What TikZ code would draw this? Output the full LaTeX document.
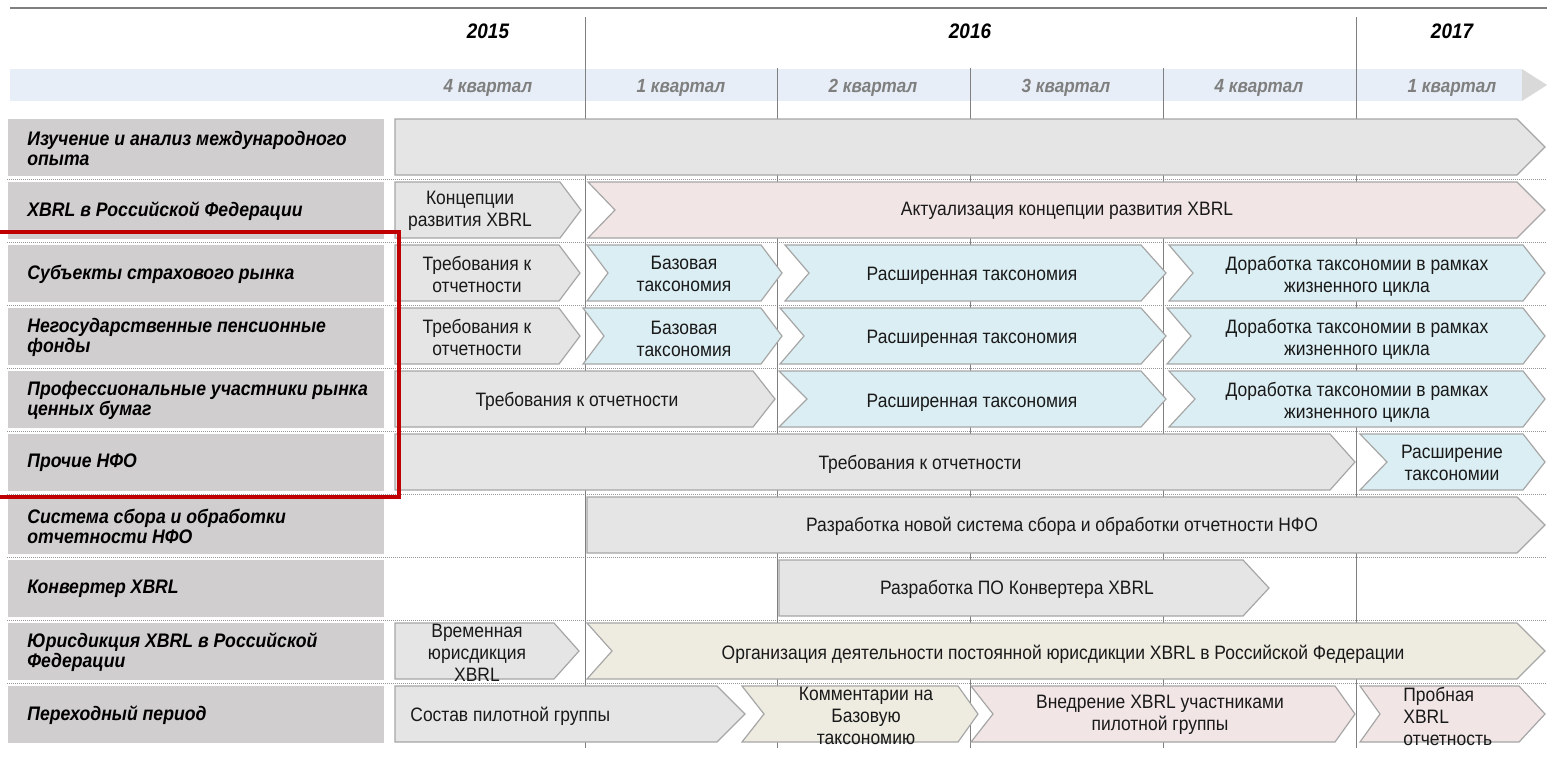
\documentclass[tikz,border=0pt]{standalone}
\usepackage{fontspec}
\setmainfont{Liberation Sans}[FakeStretch=0.9]
\definecolor{lblgray}{HTML}{D0CECE}
\definecolor{chgray}{HTML}{E5E5E5}
\definecolor{chpink}{HTML}{F2E5E5}
\definecolor{chblue}{HTML}{DBEEF3}
\definecolor{chbeige}{HTML}{EEECE1}
\definecolor{chborder}{HTML}{A6A6A6}
\definecolor{bandblue}{HTML}{E7EEF7}
\definecolor{gridgray}{HTML}{808080}
\definecolor{qgray}{HTML}{7F7F7F}
\definecolor{redframe}{HTML}{C00000}
\newcommand\chev[6]{%
  \draw[#1] (#2,#4) -- ({#3-#6},#4) -- (#3,{#4+28}) -- ({#3-#6},{#4+56}) -- (#2,{#4+56}) -- ({#2+#5},{#4+28}) -- cycle;}
\tikzset{
  chv/.style={draw=chborder, line width=0.6pt, line join=miter},
  gr/.style={chv, fill=chgray},
  pk/.style={chv, fill=chpink},
  bl/.style={chv, fill=chblue},
  bg/.style={chv, fill=chbeige},
  lblbox/.style={fill=lblgray, draw=none},
  lbltxt/.style={anchor=west, align=left, inner sep=0pt, text=black,
    font=\fontsize{9.8}{10}\selectfont\bfseries\itshape},
  txt/.style={align=center, inner sep=0pt, text=black!90,
    font=\fontsize{9.7}{11}\selectfont},
  yeartxt/.style={inner sep=0pt, text=black, font=\fontsize{10.5}{11}\selectfont\bfseries\itshape},
  qtxt/.style={inner sep=0pt, text=qgray, font=\fontsize{9.5}{10}\selectfont\bfseries\itshape},
  grid/.style={draw=gridgray, line width=0.5pt},
  dotline/.style={draw=gray!80, line width=0.5pt, dash pattern=on 0.6pt off 0.4pt},
  redbox/.style={draw=redframe, line width=1.6pt}
}
\begin{document}
\begin{tikzpicture}[x=0.5pt, y=-0.5pt]
\useasboundingbox (0,0) rectangle (1547,768);
% top line
\draw[grid, line width=0.8pt] (10,8) -- (1547,8);
% quarter band
\fill[bandblue] (10,69) rectangle (1522,101);
\fill[gray!30] (1522,69) -- (1547,85) -- (1522,101) -- cycle;
% label boxes
\foreach \t in {119,182,245,308,371,434,497,560,623,686}
  \fill[lblbox] (8,\t) rectangle (384,{\t+57});
% dotted separators
\foreach \t in {179,242,305,368,431,494,557,620,683}
  \draw[dotline] (7,\t) -- (1547,\t);
% vertical grid lines
\draw[grid] (585,17) -- (585,748);
\draw[grid] (1356,17) -- (1356,748);
\foreach \x in {777,970,1163}
  \draw[grid] (\x,68) -- (\x,748);
% years and quarters
\node[yeartxt] (y15) at (488,31) {2015};
\node[yeartxt] (y16) at (970,31) {2016};
\node[yeartxt] (y17) at (1452,31) {2017};
\node[qtxt] (q1) at (488,88) {4 квартал};
\node[qtxt] (q2) at (681,88) {1 квартал};
\node[qtxt] (q3) at (873,88) {2 квартал};
\node[qtxt] (q4) at (1066,88) {3 квартал};
\node[qtxt] (q5) at (1259,88) {4 квартал};
\node[qtxt] (q6) at (1452,88) {1 квартал};
% row labels
\node[lbltxt] (l1) at (27,148) {Изучение и анализ международного\\опыта};
\node[lbltxt] (l2) at (27,211) {XBRL в Российской Федерации};
\node[lbltxt] (l3) at (27,274) {Субъекты страхового рынка};
\node[lbltxt] (l4) at (27,337) {Негосударственные пенсионные\\фонды};
\node[lbltxt] (l5) at (27,400) {Профессиональные участники рынка\\ценных бумаг};
\node[lbltxt] (l6) at (27,463) {Прочие НФО};
\node[lbltxt] (l7) at (27,526) {Система сбора и обработки\\отчетности НФО};
\node[lbltxt] (l8) at (27,589) {Конвертер XBRL};
\node[lbltxt] (l9) at (27,652) {Юрисдикция XBRL в Российской\\Федерации};
\node[lbltxt] (l10) at (27,715) {Переходный период};
% chevrons
\chev{gr}{395}{1545}{119}{0}{28}
\chev{gr}{395}{581}{182}{0}{21}
\chev{pk}{588}{1545}{182}{27}{28}
\chev{gr}{395}{580}{245}{0}{21}
\chev{bl}{587}{782}{245}{21}{21}
\chev{bl}{785}{1166}{245}{24}{25}
\chev{bl}{1169}{1545}{245}{24}{22}
\chev{gr}{395}{580}{308}{0}{21}
\chev{bl}{583}{782}{308}{21}{21}
\chev{bl}{780}{1166}{308}{24}{25}
\chev{bl}{1167}{1545}{308}{24}{22}
\chev{gr}{395}{775}{371}{0}{22}
\chev{bl}{779}{1166}{371}{28}{25}
\chev{bl}{1169}{1545}{371}{26}{22}
\chev{gr}{395}{1355}{434}{0}{25}
\chev{bl}{1360}{1545}{434}{27}{22}
\chev{gr}{587}{1545}{497}{0}{28}
\chev{gr}{779}{1269}{560}{0}{26}
\chev{gr}{395}{579}{623}{0}{25}
\chev{bg}{587}{1545}{623}{25}{28}
\chev{gr}{395}{745}{686}{0}{28}
\chev{bg}{742}{978}{686}{22}{20}
\chev{pk}{971}{1355}{686}{22}{20}
\chev{pk}{1360}{1545}{686}{20}{26}
% chevron texts
\node[txt] (c2a) at (470,211) {Концепции\\развития XBRL};
\node[txt] (c2b) at (1067,211) {Актуализация концепции развития XBRL};
\node[txt] (c3a) at (477,274) {Требования к\\отчетности};
\node[txt] (c3b) at (684,274) {Базовая\\таксономия};
\node[txt] (c3c) at (972,276) {Расширенная таксономия};
\node[txt] (c3d) at (1357,276) {Доработка таксономии в рамках\\жизненного цикла};
\node[txt] (c4a) at (477,337) {Требования к\\отчетности};
\node[txt] (c4b) at (684,339) {Базовая\\таксономия};
\node[txt] (c4c) at (972,339) {Расширенная таксономия};
\node[txt] (c4d) at (1357,339) {Доработка таксономии в рамках\\жизненного цикла};
\node[txt] (c5a) at (577,401) {Требования к отчетности};
\node[txt] (c5b) at (972,403) {Расширенная таксономия};
\node[txt] (c5d) at (1357,402) {Доработка таксономии в рамках\\жизненного цикла};
\node[txt] (c6a) at (920,464) {Требования к отчетности};
\node[txt] (c6b) at (1452,463) {Расширение\\таксономии};
\node[txt] (c7a) at (1062,526) {Разработка новой система сбора и обработки отчетности НФО};
\node[txt] (c8a) at (1017,589) {Разработка ПО Конвертера XBRL};
\node[txt] (c9a) at (477,653) {Временная\\юрисдикция\\XBRL};
\node[txt] (c9b) at (1063,654) {Организация деятельности постоянной юрисдикции XBRL в Российской Федерации};
\node[txt, anchor=west] (c10a) at (410,716) {Состав пилотной группы};
\node[txt] (c10b) at (866,716) {Комментарии на\\Базовую\\таксономию};
\node[txt] (c10c) at (1160,715) {Внедрение XBRL участниками\\пилотной группы};
\node[txt, align=left, anchor=west] (c10d) at (1403,716) {Пробная\\XBRL\\отчетность};
% red frame
\draw[redbox] (0,232) -- (399,232) -- (399,497) -- (0,497);
\end{tikzpicture}
\end{document}
